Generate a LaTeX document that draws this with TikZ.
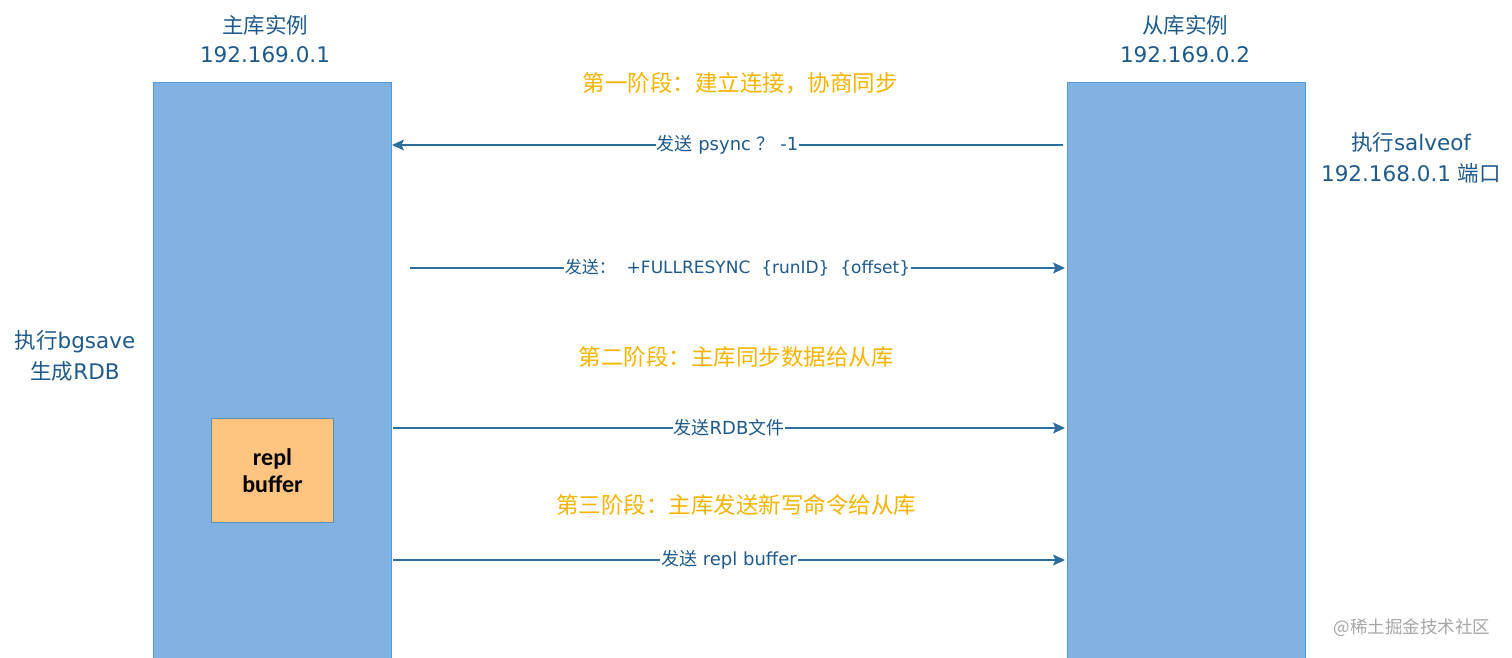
\documentclass[tikz,border=0pt]{standalone}
\usepackage{fontspec}
\setmainfont{DejaVu Sans}
\newfontfamily\cjk{Noto Sans CJK SC}
\newfontfamily\calib{Carlito}
\usetikzlibrary{arrows.meta}
\definecolor{boxfill}{HTML}{82B2E1}
\definecolor{boxline}{HTML}{4F9BD9}
\definecolor{txtblue}{HTML}{1F5A8C}
\definecolor{arrblue}{HTML}{2C6E9E}
\definecolor{phase}{HTML}{F5B400}
\definecolor{buffill}{HTML}{FFC580}
\definecolor{bufline}{HTML}{5E8FB8}
\tikzset{
  inst/.style={draw=boxline, fill=boxfill, line width=1pt},
  head/.style={text=txtblue, font=\fontsize{21.5}{29}\selectfont, align=center, inner sep=0pt},
  side/.style={text=txtblue, font=\fontsize{21.5}{31}\selectfont, align=center, inner sep=0pt},
  phasetxt/.style={text=phase, font=\cjk\fontsize{22.5}{24}\selectfont, inner sep=0pt},
  msg/.style={draw=arrblue, line width=1.3pt, -{Stealth[length=12pt,width=11pt,inset=2.5pt]}},
  lbl/.style={fill=white, text=txtblue, font=\fontsize{18}{20}\selectfont, inner sep=1pt},
}
\begin{document}
\begin{tikzpicture}[x=1pt,y=-1pt]
\useasboundingbox (0,0) rectangle (1512,657);
% instances
\node[inst, minimum width=238pt, minimum height=580pt, anchor=north west, inner sep=0pt] (master) at (153,82) {};
\node[inst, minimum width=238pt, minimum height=580pt, anchor=north west, inner sep=0pt] (slave) at (1067,82) {};
\node[head] (mhead) at (265,39) {{\cjk 主库实例}\\192.169.0.1};
\node[head] (shead) at (1185,39) {{\cjk 从库实例}\\192.169.0.2};
% side notes
\node[side] (snote) at (1411,158) {{\cjk 执行}salveof\\192.168.0.1 {\cjk 端口}};
\node[side] (mnote) at (75,356) {{\cjk 执行}bgsave\\{\cjk 生成}RDB};
% phases
\node[phasetxt] (p1) at (740,83) {第一阶段：建立连接，协商同步};
\node[phasetxt] (p2) at (736,357) {第二阶段：主库同步数据给从库};
\node[phasetxt] (p3) at (736,505) {第三阶段：主库发送新写命令给从库};
% repl buffer
\node[draw=bufline, fill=buffill, line width=1pt, minimum width=122pt, minimum height=104pt, anchor=north west, inner sep=0pt, align=center, font=\calib\fontsize{24}{27}\selectfont\bfseries] (buf) at (211,418) {repl\\buffer};
% anchors for arrows
\coordinate (a1s) at (1063,145);
\coordinate (a1e) at (392,145);
\coordinate (a2s) at (410,268);
\coordinate (a2e) at (1065,268);
\coordinate (a3s) at (393,428);
\coordinate (a3e) at (1065,428);
\coordinate (a4s) at (393,560);
\coordinate (a4e) at (1065,560);
\draw[msg] (a1s) -- (a1e) node[lbl, pos=0.5] {{\cjk 发送} psync {\cjk ？} -1};
\draw[msg] (a2s) -- (a2e) node[lbl, pos=0.5, font=\fontsize{17}{20}\selectfont] {{\cjk 发送：}\ \ +FULLRESYNC\ \ \{runID\}\ \ \{offset\}};
\draw[msg] (a3s) -- (a3e) node[lbl, pos=0.5] {{\cjk 发送}RDB{\cjk 文件}};
\draw[msg] (a4s) -- (a4e) node[lbl, pos=0.5] {{\cjk 发送} repl buffer};
% watermark
\node[text=black!35, font=\cjk\fontsize{17.5}{18}\selectfont, inner sep=0pt] (wm) at (1412,628) {@稀土掘金技术社区};
\end{tikzpicture}
\end{document}
